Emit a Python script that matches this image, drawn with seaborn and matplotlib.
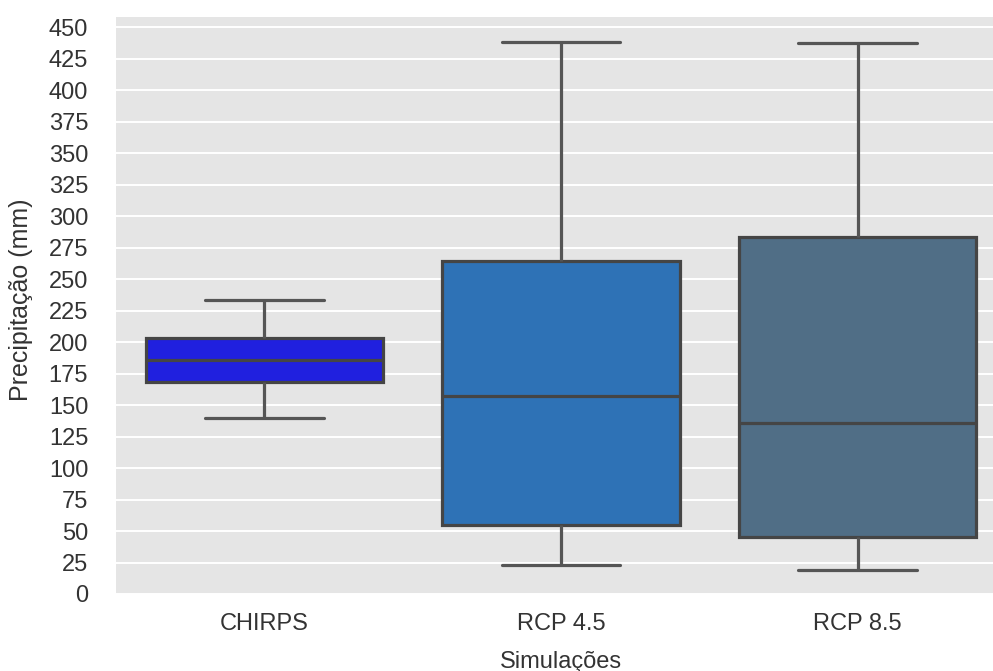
import matplotlib
matplotlib.use("Agg")
import matplotlib.pyplot as plt
import seaborn as sns
import pandas as pd

# ---- data ----
categories = ["CHIRPS", "RCP 4.5", "RCP 8.5"]
chirps_vals = [140, 168, 186, 203, 233]
rcp45_vals = [23, 55, 157, 264, 438]
rcp85_vals = [19, 45, 136, 283, 437]
box_colors = ["#2020DF", "#2E72B6", "#506E86"]
yticks = list(range(0, 451, 25))
xlabel = "Simulações"
ylabel = "Precipitação (mm)"

df = pd.DataFrame({
    "Simulações": [categories[0]] * len(chirps_vals)
                  + [categories[1]] * len(rcp45_vals)
                  + [categories[2]] * len(rcp85_vals),
    "Precipitação": chirps_vals + rcp45_vals + rcp85_vals,
})

sns.set_theme(style="darkgrid")
plt.rcParams["font.family"] = ["Liberation Sans", "DejaVu Sans"]

W, H = 993, 671
fig = plt.figure(figsize=(W / 100, H / 100), dpi=100)
ax_left, ax_right, ax_top, ax_bottom = 116, 1006, 17, 594
ax = fig.add_axes([ax_left / W, (H - ax_bottom) / H,
                   (ax_right - ax_left) / W, (ax_bottom - ax_top) / H])
ax.set_facecolor("#E5E5E5")

sns.boxplot(data=df, x="Simulações", y="Precipitação", hue="Simulações",
            palette=box_colors, saturation=1, width=0.8,
            linecolor="#454545", linewidth=2.3, legend=False, ax=ax,
            order=categories, hue_order=categories,
            whiskerprops={"color": "#555555"}, capprops={"color": "#555555"})

ax.set_ylim(0, 458)
ax.set_xlim(-0.5, 2.5)
ax.set_yticks(yticks)
ax.set_yticklabels([str(t) for t in yticks])
ax.grid(axis="y", color="white", linewidth=1.4)
ax.grid(axis="x", visible=False)
for s in ax.spines.values():
    s.set_visible(False)

ax.tick_params(axis="y", length=0, pad=20, labelsize=17, labelcolor="#333333")
ax.tick_params(axis="x", length=0, pad=14, labelsize=17, labelcolor="#333333")

ax.set_xlabel(xlabel, fontsize=17, color="#333333")
ax.set_ylabel(ylabel, fontsize=18, color="#333333")
ax.xaxis.set_label_coords(0.5, -0.098)
ax.yaxis.set_label_coords(-0.107, 0.51)
ax.xaxis.label.set_va("top")
ax.yaxis.label.set_va("center")

fig.savefig("out.png", dpi=100)
